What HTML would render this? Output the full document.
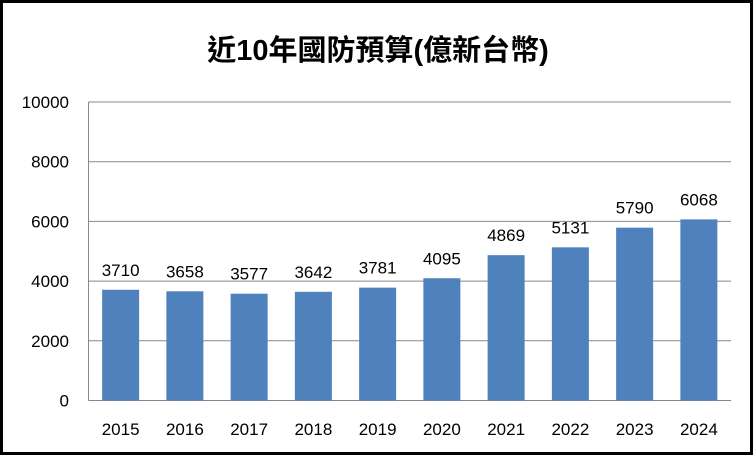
<!DOCTYPE html>
<html><head><meta charset="utf-8"><style>
body{margin:0;background:#fff}
svg text{font-family:"Liberation Sans","Noto Sans CJK TC",sans-serif}
</style></head><body>
<svg width="756" height="456" xmlns="http://www.w3.org/2000/svg">
<rect x="1.5" y="1.5" width="750" height="452" fill="#fff" stroke="#000" stroke-width="3"/>
<text x="378" y="60" text-anchor="middle" font-size="29" font-weight="bold" fill="#000">近10年國防預算(億新台幣)</text>
<g id="g"></g>
</svg>
<script>
const categories=["2015","2016","2017","2018","2019","2020","2021","2022","2023","2024"];
const values=[3710,3658,3577,3642,3781,4095,4869,5131,5790,6068];
const yTicks=[0,2000,4000,6000,8000,10000];
const NS="http://www.w3.org/2000/svg";
const g=document.getElementById('g');
const L=88.5,R=731,T=102,B=400.5,yMax=10000;
const y=v=>B-(v/yMax)*(B-T);
const bw=(R-L)/categories.length;
const x=i=>L+bw*(i+0.5);
function mk(t,a,txt){const e=document.createElementNS(NS,t);for(const k in a)e.setAttribute(k,a[k]);if(txt!==undefined)e.textContent=txt;g.appendChild(e);return e;}
yTicks.forEach(t=>{
 const l=mk('line',{x1:L,x2:R,y1:y(t),y2:y(t),stroke:'#888','stroke-width':1});
 
 
 const tx=mk('text',{x:69,y:y(t)+6,'text-anchor':'end','font-size':17,fill:'#000'},String(t));
 
 
});
const ax=mk('line',{x1:L,x2:L,y1:T,y2:B,stroke:'#888','stroke-width':1});


categories.forEach((c,i)=>{
 const w=37;
 const r=mk('rect',{x:x(i)-w/2,y:y(values[i]),width:w,height:B-y(values[i]),fill:'#4f81bd'});
 
 
 const v=mk('text',{x:x(i),y:y(values[i])-14,'text-anchor':'middle','font-size':17,fill:'#000'},String(values[i]));
 
 
 const cl=mk('text',{x:x(i),y:435,'text-anchor':'middle','font-size':17,fill:'#000'},c);
 
 
});
</script>
</body></html>
